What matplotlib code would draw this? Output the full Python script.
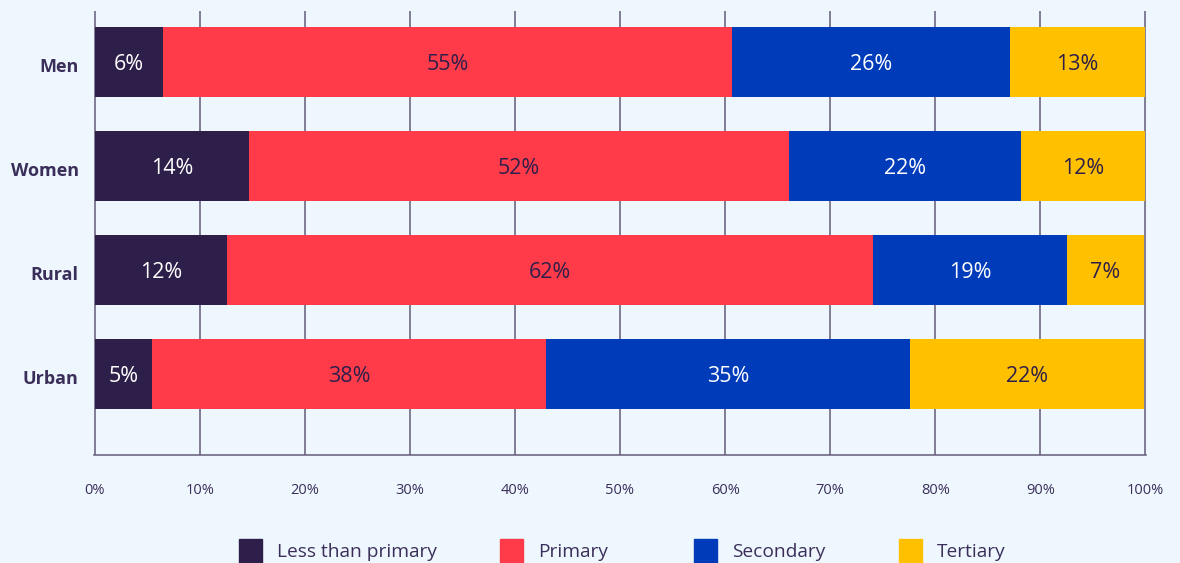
import matplotlib
matplotlib.use("Agg")
import matplotlib.pyplot as plt
from matplotlib.patches import Rectangle
import numpy as np

plt.rcParams['font.family'] = ['Open Sans', 'DejaVu Sans']

categories = ["Men", "Women", "Rural", "Urban"]
series_names = ["Less than primary", "Primary", "Secondary", "Tertiary"]
less_than_primary = [6.5, 14.7, 12.6, 5.5]
primary = [54.2, 51.4, 61.5, 37.5]
secondary = [26.4, 22.1, 18.4, 34.6]
tertiary = [12.9, 11.8, 7.4, 22.3]
labels_less = ["6%", "14%", "12%", "5%"]
labels_primary = ["55%", "52%", "62%", "38%"]
labels_secondary = ["26%", "22%", "19%", "35%"]
labels_tertiary = ["13%", "12%", "7%", "22%"]
x_ticks = [0, 10, 20, 30, 40, 50, 60, 70, 80, 90, 100]

bg = "#eff7fe"
colors = ["#2e1f4a", "#ff3b4a", "#003cba", "#ffc000"]
text_colors = ["white", "#2e1f4a", "white", "#2e1f4a"]
dark = "#3a2e5a"
grid_c = "#625b78"

fig = plt.figure(figsize=(11.8, 5.63), dpi=100, facecolor=bg)
ax = fig.add_axes([94/1180, 1-455/563, (1146-94)/1180, (455-11)/563])
ax.set_facecolor(bg)

y = np.arange(len(categories))
all_vals = [less_than_primary, primary, secondary, tertiary]
all_labels = [labels_less, labels_primary, labels_secondary, labels_tertiary]
left = np.zeros(len(categories))
for vals, labs, c, tc in zip(all_vals, all_labels, colors, text_colors):
    vals = np.array(vals)
    ax.barh(y, vals, left=left, height=0.67, color=c, zorder=3)
    for yi, l, v, lab in zip(y, left, vals, labs):
        ax.text(l + v/2, yi + 0.025, lab, ha="center", va="center", color=tc,
                fontsize=15.5, zorder=4)
    left = left + vals

for t in x_ticks:
    ax.axvline(t, color=grid_c, lw=1.1, zorder=1)

ax.set_xlim(-0.05, 100.05)
ax.set_ylim(3.78, -0.49)
ax.set_xticks(x_ticks)
ax.set_xticklabels([f"{t}%" for t in x_ticks], fontsize=10.5, color=dark)
ax.set_yticks(y + 0.03)
ax.set_yticklabels(categories, fontsize=13, fontweight="bold", color=dark)
ax.tick_params(axis="both", length=0)
ax.tick_params(axis="x", pad=20)
ax.tick_params(axis="y", pad=11)
for s in ["top", "right", "left"]:
    ax.spines[s].set_visible(False)
ax.spines["bottom"].set_color(grid_c)
ax.spines["bottom"].set_linewidth(1.1)

# legend
sq_x = [239, 500, 694, 899]
for name, c, sx in zip(series_names, colors, sq_x):
    fig.patches.append(Rectangle((sx/1180, 1-563/563), 23/1180, 24/563,
                                 transform=fig.transFigure, color=c))
    fig.text((sx+38)/1180, 1-552/563, name, ha="left", va="center",
             fontsize=13.8, color=dark)

fig.savefig("out.png", dpi=100, facecolor=bg)
